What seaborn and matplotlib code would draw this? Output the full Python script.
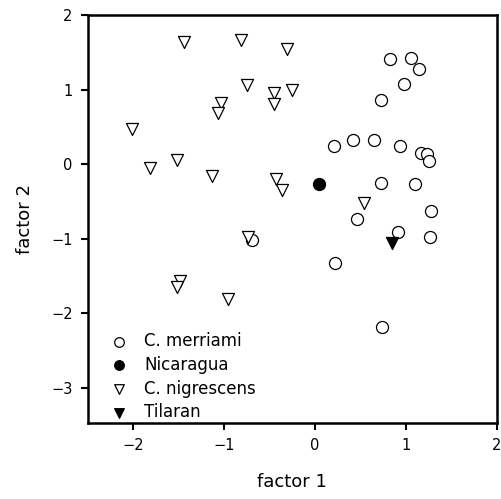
import matplotlib
matplotlib.use("Agg")
import matplotlib.pyplot as plt
import seaborn as sns
import pandas as pd

sns.set_style("ticks")
plt.rcParams['font.family'] = ['DejaVu Sans']
plt.rcParams['text.color'] = 'black'
plt.rcParams['axes.labelcolor'] = 'black'
plt.rcParams['xtick.color'] = 'black'
plt.rcParams['ytick.color'] = 'black'

# C. merriami (open circles)
merriami_x = [0.82, 1.05, 1.14, 0.98, 0.72, 0.21, 0.42, 0.65, 0.93, 1.16, 1.23, 1.25,
              0.72, 1.10, 0.46, 1.27, 0.91, 1.26, 0.22, 0.74, -0.69]
merriami_y = [1.41, 1.43, 1.27, 1.08, 0.86, 0.24, 0.32, 0.33, 0.24, 0.15, 0.14, 0.04,
              -0.25, -0.26, -0.73, -0.63, -0.91, -0.98, -1.32, -2.18, -1.02]
# Nicaragua (filled circle)
nicaragua_x = [0.04]
nicaragua_y = [-0.27]
# C. nigrescens (open triangles)
nigrescens_x = [-1.44, -0.82, -0.31, -0.75, -0.45, -0.25, -1.04, -1.07, -0.45, -2.01,
                -1.52, -1.82, -1.13, -0.43, -0.37, 0.54, -0.74, -1.49, -1.52, -0.96]
nigrescens_y = [1.64, 1.66, 1.54, 1.06, 0.96, 1.00, 0.82, 0.69, 0.81, 0.47,
                0.05, -0.05, -0.16, -0.20, -0.34, -0.52, -0.98, -1.57, -1.65, -1.81]
# Tilaran (filled triangle)
tilaran_x = [0.85]
tilaran_y = [-1.05]

groups = ["C. merriami", "Nicaragua", "C. nigrescens", "Tilaran"]
xs = [merriami_x, nicaragua_x, nigrescens_x, tilaran_x]
ys = [merriami_y, nicaragua_y, nigrescens_y, tilaran_y]
markers = ["o", "o", "v", "v"]
faces = ["white", "black", "white", "black"]

frames = []
for g, x, y in zip(groups, xs, ys):
    frames.append(pd.DataFrame({"factor 1": x, "factor 2": y, "group": g}))
df = pd.concat(frames, ignore_index=True)

fig = plt.figure(figsize=(5.02, 4.99), dpi=100)
ax = fig.add_axes([0.175, 0.152, 0.815, 0.818])

for g, m, fc in zip(groups, markers, faces):
    sub = df[df["group"] == g]
    sns.scatterplot(data=sub, x="factor 1", y="factor 2", ax=ax, marker=m,
                    s=75, facecolor=fc, edgecolor="black", linewidth=0.9,
                    label=g, zorder=3)

ax.set_xlim(-2.5, 2.0)
ax.set_ylim(-3.47, 2.0)
ax.set_xticks([-2, -1, 0, 1, 2])
ax.set_yticks([-3, -2, -1, 0, 1, 2])
ax.set_xticklabels(["\u22122", "\u22121", "0", "1", "2"])
ax.set_yticklabels(["\u22123", "\u22122", "\u22121", "0", "1", "2"])
for sp in ax.spines.values():
    sp.set_linewidth(1.8)
    sp.set_color("black")
ax.tick_params(direction="out", length=5, width=1.5, labelsize=10.5, colors="black", pad=6)
ax.set_xlabel("factor 1", fontsize=13, labelpad=14)
ax.set_ylabel("factor 2", fontsize=13, labelpad=12)

leg = ax.legend(loc="lower left", bbox_to_anchor=(0.04, -0.012), frameon=False,
                fontsize=12, handletextpad=1.0, borderaxespad=0.2, labelspacing=0.35,
                markerscale=0.8, handlelength=1.0, borderpad=0.2)
for t in leg.get_texts():
    t.set_color("black")

fig.savefig("out.png", dpi=100)
